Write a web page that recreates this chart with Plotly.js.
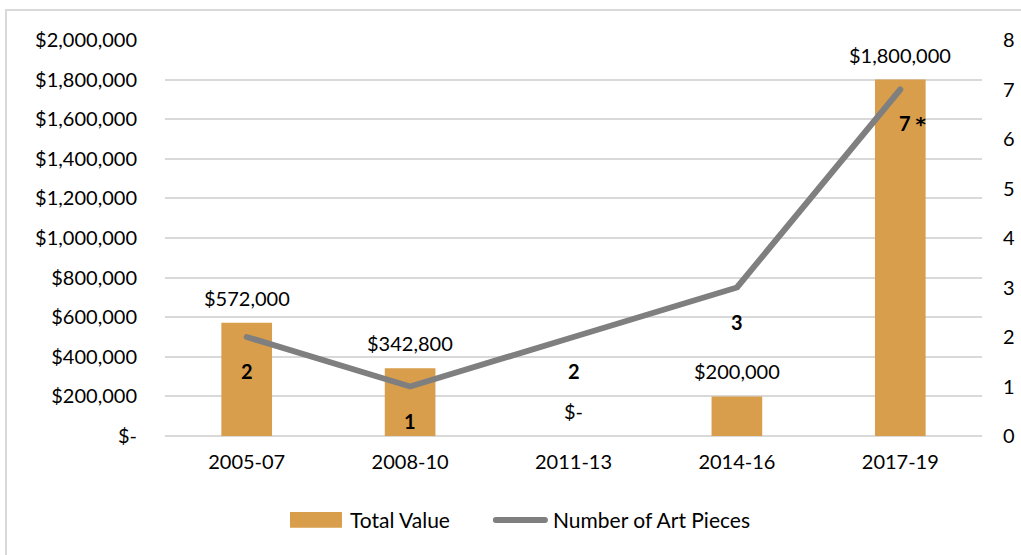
<!DOCTYPE html>
<html>
<head>
<meta charset="utf-8">
<script src="https://cdn.plot.ly/plotly-3.0.1.min.js"></script>
<style>
html,body{margin:0;padding:0;background:#fff;}
#wrap{position:relative;width:1021px;height:555px;overflow:hidden;}
#frame{position:absolute;left:5px;top:9px;width:1030px;height:560px;border:2px solid #d9d9d9;box-sizing:border-box;}
#chart{position:absolute;left:0;top:0;width:1021px;height:555px;}
#chart path.js-line{stroke-linecap:round;stroke-linejoin:round;}
#chart .shapelayer path{stroke-linecap:round;}
</style>
</head>
<body>
<div id="wrap"><div id="frame"></div><div id="chart"></div></div>
<script>
const categories = ['2005-07','2008-10','2011-13','2014-16','2017-19'];
const totalValue = [572000, 342800, 0, 200000, 1800000];
const totalValueLabels = ['$572,000','$342,800','$-','$200,000','$1,800,000'];
const artPieces = [2, 1, 2, 3, 7];
const artPiecesLabels = ['2','1','2','3','7 <span style="font-family:DejaVu Sans;">*</span>'];
const leftTickVals = [0,200000,400000,600000,800000,1000000,1200000,1400000,1600000,1800000,2000000];
const leftTickText = ['$-','$200,000','$400,000','$600,000','$800,000','$1,000,000','$1,200,000','$1,400,000','$1,600,000','$1,800,000','$2,000,000'];
const rightTickVals = [0,1,2,3,4,5,6,7,8];
const seriesNames = ['Total Value', 'Number of Art Pieces'];

const FONT = 'Lato, "Open Sans", sans-serif';
const FS = 20;
const barColor = '#D89E4C';
const lineColor = '#7F7F7F';

const traces = [
  {
    type: 'bar', name: seriesNames[0], x: categories, y: totalValue,
    marker: {color: barColor}, width: 0.31, showlegend: false
  },
  {
    type: 'scatter', mode: 'lines', name: seriesNames[1], x: categories, y: artPieces,
    yaxis: 'y2', line: {color: lineColor, width: 6}, showlegend: false
  }
];

const annotations = [];
categories.forEach((c, i) => {
  annotations.push({x: c, y: totalValue[i], xref: 'x', yref: 'y', text: totalValueLabels[i],
    showarrow: false, yshift: 25, font: {family: FONT, size: FS, color: '#000'}});
  annotations.push({x: c, y: artPieces[i], xref: 'x', yref: 'y2', text: '<b>' + artPiecesLabels[i] + '</b>',
    showarrow: false, yshift: -34, xshift: (i === 4 ? 12 : 0), font: {family: FONT, size: FS, color: '#000'}});
});

// custom legend (Excel-style wide swatches)
annotations.push({xref: 'paper', yref: 'paper', x: 0.224, y: -0.212, xanchor: 'left', yanchor: 'middle',
  text: seriesNames[0], showarrow: false, font: {family: FONT, size: 21, color: '#000'}});
annotations.push({xref: 'paper', yref: 'paper', x: 0.4725, y: -0.212, xanchor: 'left', yanchor: 'middle',
  text: seriesNames[1], showarrow: false, font: {family: FONT, size: 21, color: '#000'}});
const shapes = [
  {type: 'rect', xref: 'paper', yref: 'paper', x0: 0.153, x1: 0.2166, y0: -0.192, y1: -0.232,
    fillcolor: barColor, line: {width: 0}},
  {type: 'line', xref: 'paper', yref: 'paper', x0: 0.405, x1: 0.465, y0: -0.212, y1: -0.212,
    line: {color: lineColor, width: 6}}
];

const layout = {
  width: 1021, height: 555,
  margin: {l: 165, r: 39, t: 40, b: 119, autoexpand: false},
  paper_bgcolor: 'rgba(0,0,0,0)', plot_bgcolor: 'rgba(0,0,0,0)',
  font: {family: FONT, size: FS, color: '#000'},
  xaxis: {type: 'category', tickfont: {family: FONT, size: FS}, showline: false, ticks: '',
    ticklabelstandoff: 12, showgrid: false, zeroline: false},
  yaxis: {range: [0, 2000000], tickvals: leftTickVals, ticktext: leftTickText,
    showgrid: true, gridcolor: '#d9d9d9', gridwidth: 2, zeroline: true, zerolinecolor: '#d9d9d9', zerolinewidth: 2,
    showline: false, ticks: '', ticklabelstandoff: 27, tickfont: {family: FONT, size: FS}},
  yaxis2: {range: [0, 8], tickvals: rightTickVals, overlaying: 'y', side: 'right',
    showgrid: false, zeroline: false, showline: false, ticks: '', ticklabelstandoff: 20,
    tickfont: {family: FONT, size: FS}},
  showlegend: false,
  annotations: annotations,
  shapes: shapes
};

Plotly.newPlot('chart', traces, layout, {displayModeBar: false, staticPlot: true});
</script>
</body>
</html>
